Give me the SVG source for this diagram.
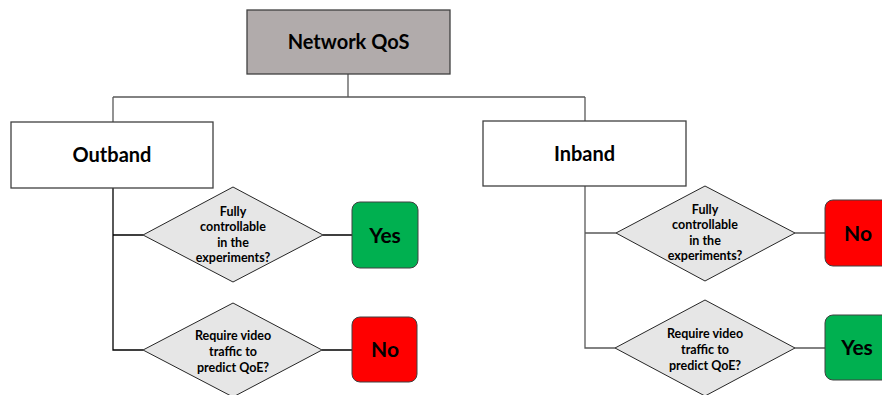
<svg xmlns="http://www.w3.org/2000/svg" width="882" height="395" viewBox="0 0 882 395">
<style>
text{font-family:Lato,"Open Sans","Liberation Sans",sans-serif;font-weight:bold;fill:#000;text-anchor:middle}
.box{fill:#fff;stroke:#404040;stroke-width:1.3}
.dia{fill:#e6e6e6;stroke:#262626;stroke-width:1}
.big{font-size:20px}
.q{font-size:12.5px}
.ans{font-size:21px}
.c{fill:none;stroke:#595959;stroke-width:1.3}
.cb{fill:none;stroke:#000;stroke-width:1.3}
</style>
<rect width="882" height="395" fill="#fff"/>
<g id="connectors">
<path class="c" d="M348 74V97M113 97H585M113 97V122M585 97V121"/>
<path class="cb" d="M113 188V350H143M113 235H143M323 235H352M322 350H352"/>
<path class="c" d="M585 186V348H615M585 233H616M795 233H825M795 348H825"/>
</g>
<g id="network-qos">
<rect x="247" y="10" width="203" height="64" fill="#b1abab" stroke="#404040" stroke-width="1.3"/>
<text class="big" x="348.5" y="49">Network QoS</text>
</g>
<g id="outband">
<rect class="box" x="11" y="122" width="202" height="66"/>
<text class="big" x="112" y="162">Outband</text>
</g>
<g id="inband">
<rect class="box" x="483" y="121" width="203" height="65"/>
<text class="big" x="584.5" y="161">Inband</text>
</g>
<g id="q1-out">
<polygon class="dia" points="233,187 323,235 233,282 143,235"/>
<text class="q" x="233" y="216">Fully</text>
<text class="q" x="233" y="231">controllable</text>
<text class="q" x="233" y="247">in the</text>
<text class="q" x="233" y="262">experiments?</text>
</g>
<g id="q2-out">
<polygon class="dia" points="233,303 322,350 233,397 143,350"/>
<text class="q" x="233" y="340">Require video</text>
<text class="q" x="233" y="356">traffic to</text>
<text class="q" x="233" y="372">predict QoE?</text>
</g>
<g id="q1-in">
<polygon class="dia" points="705,186 795,233 705,281 616,233"/>
<text class="q" x="705" y="214">Fully</text>
<text class="q" x="705" y="229">controllable</text>
<text class="q" x="705" y="245">in the</text>
<text class="q" x="705" y="260">experiments?</text>
</g>
<g id="q2-in">
<polygon class="dia" points="705,300 795,348 705,396 615,348"/>
<text class="q" x="705" y="338">Require video</text>
<text class="q" x="705" y="354">traffic to</text>
<text class="q" x="705" y="370">predict QoE?</text>
</g>
<g id="yes-out">
<rect x="352" y="202" width="66" height="66" rx="8" fill="#00b050" stroke="#404040" stroke-width="1"/>
<text class="ans" x="385" y="243">Yes</text>
</g>
<g id="no-out">
<rect x="352" y="317" width="65" height="65" rx="8" fill="#ff0000" stroke="#404040" stroke-width="1"/>
<text class="ans" x="385" y="357">No</text>
</g>
<g id="no-in">
<rect x="825" y="200" width="70" height="66" rx="8" fill="#ff0000" stroke="#404040" stroke-width="1"/>
<text class="ans" x="858" y="241">No</text>
</g>
<g id="yes-in">
<rect x="825" y="315" width="70" height="65" rx="8" fill="#00b050" stroke="#404040" stroke-width="1"/>
<text class="ans" x="857" y="355">Yes</text>
</g>
</svg>
